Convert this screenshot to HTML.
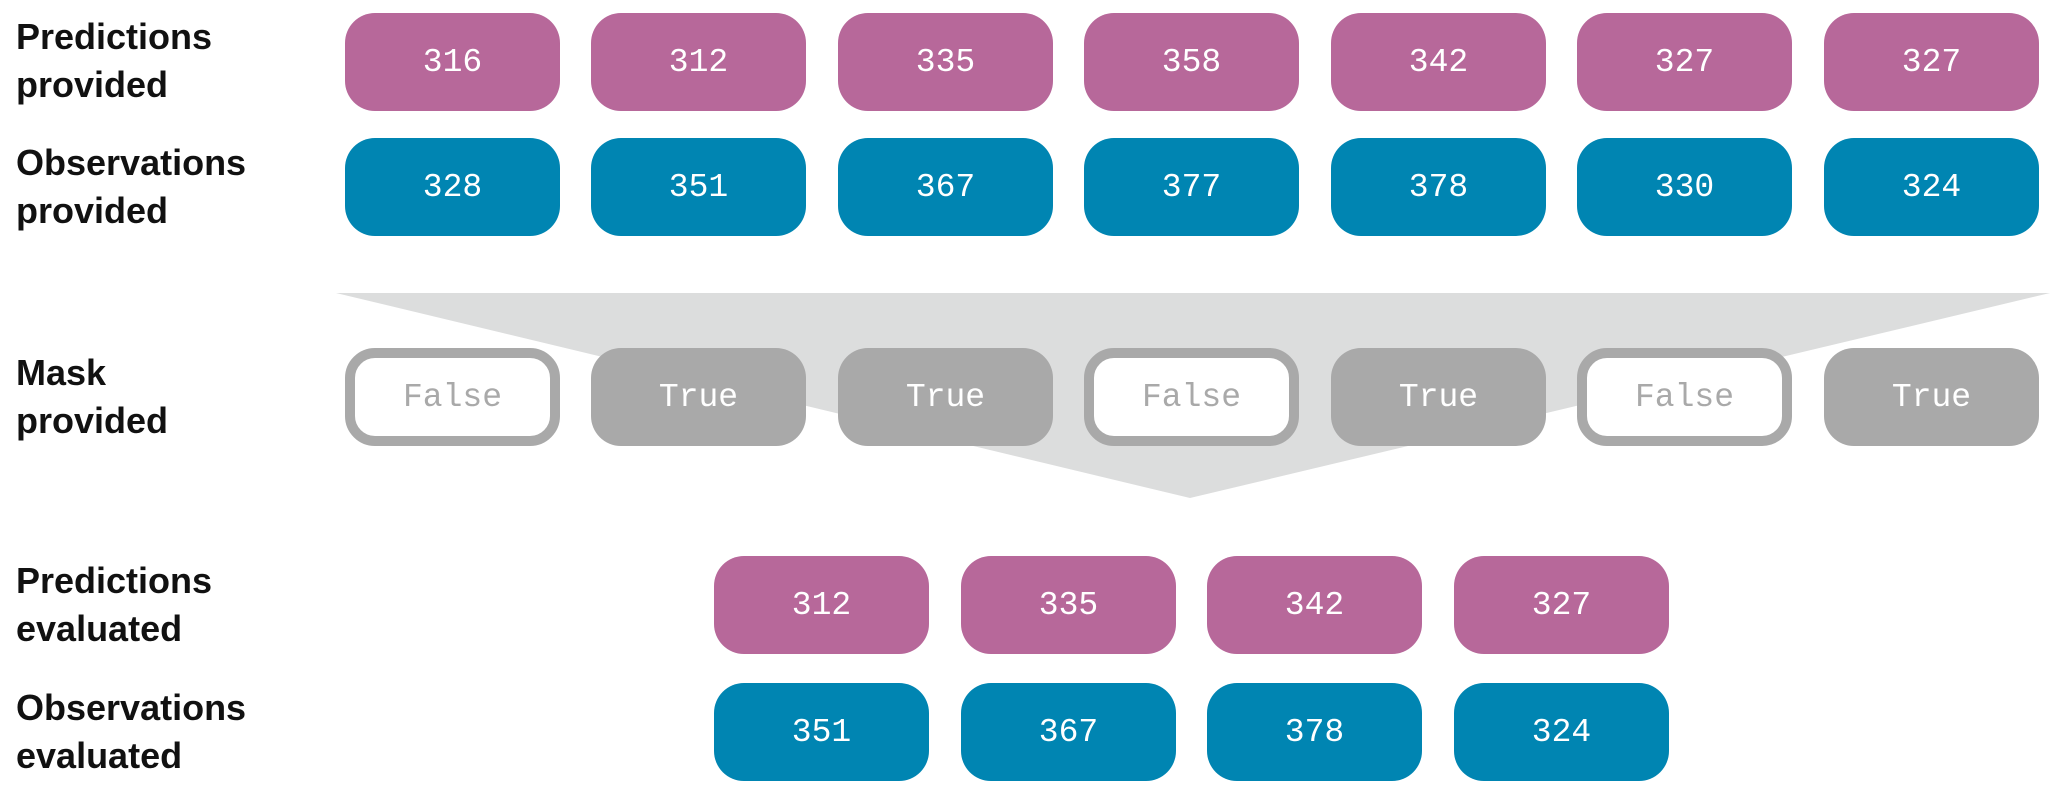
<!DOCTYPE html>
<html><head><meta charset="utf-8"><style>
body{margin:0;width:2067px;height:794px;background:#fff;position:relative;overflow:hidden;font-family:"Liberation Sans",sans-serif}
.l{position:absolute;left:16px;font-weight:bold;font-size:36px;line-height:48px;color:#111}
.b{position:absolute;width:215px;height:98px;border-radius:30px;box-sizing:border-box;display:flex;align-items:center;justify-content:center;font-family:"Liberation Mono",monospace;font-size:33px;color:#fff}
.p{background:#b7689a}.o{background:#0085b2}.t{background:#a9a9a9}.f{background:#fff;border:10px solid #a9a9a9;color:#a9a9a9}
</style></head><body>
<svg style="position:absolute;left:0;top:0" width="2067" height="794"><polygon points="336,293 2050,293 1190,498" fill="#dcdddd"/></svg>
<div class="l" style="top:13px">Predictions<br>provided</div>
<div class="l" style="top:139px">Observations<br>provided</div>
<div class="l" style="top:349px">Mask<br>provided</div>
<div class="l" style="top:557px">Predictions<br>evaluated</div>
<div class="l" style="top:684px">Observations<br>evaluated</div>

<div class="b p" style="left:345px;top:13px">316</div>
<div class="b p" style="left:591px;top:13px">312</div>
<div class="b p" style="left:838px;top:13px">335</div>
<div class="b p" style="left:1084px;top:13px">358</div>
<div class="b p" style="left:1331px;top:13px">342</div>
<div class="b p" style="left:1577px;top:13px">327</div>
<div class="b p" style="left:1824px;top:13px">327</div>

<div class="b o" style="left:345px;top:138px">328</div>
<div class="b o" style="left:591px;top:138px">351</div>
<div class="b o" style="left:838px;top:138px">367</div>
<div class="b o" style="left:1084px;top:138px">377</div>
<div class="b o" style="left:1331px;top:138px">378</div>
<div class="b o" style="left:1577px;top:138px">330</div>
<div class="b o" style="left:1824px;top:138px">324</div>

<div class="b f" style="left:345px;top:348px">False</div>
<div class="b t" style="left:591px;top:348px">True</div>
<div class="b t" style="left:838px;top:348px">True</div>
<div class="b f" style="left:1084px;top:348px">False</div>
<div class="b t" style="left:1331px;top:348px">True</div>
<div class="b f" style="left:1577px;top:348px">False</div>
<div class="b t" style="left:1824px;top:348px">True</div>

<div class="b p" style="left:714px;top:556px">312</div>
<div class="b p" style="left:961px;top:556px">335</div>
<div class="b p" style="left:1207px;top:556px">342</div>
<div class="b p" style="left:1454px;top:556px">327</div>

<div class="b o" style="left:714px;top:683px">351</div>
<div class="b o" style="left:961px;top:683px">367</div>
<div class="b o" style="left:1207px;top:683px">378</div>
<div class="b o" style="left:1454px;top:683px">324</div>
</body></html>
